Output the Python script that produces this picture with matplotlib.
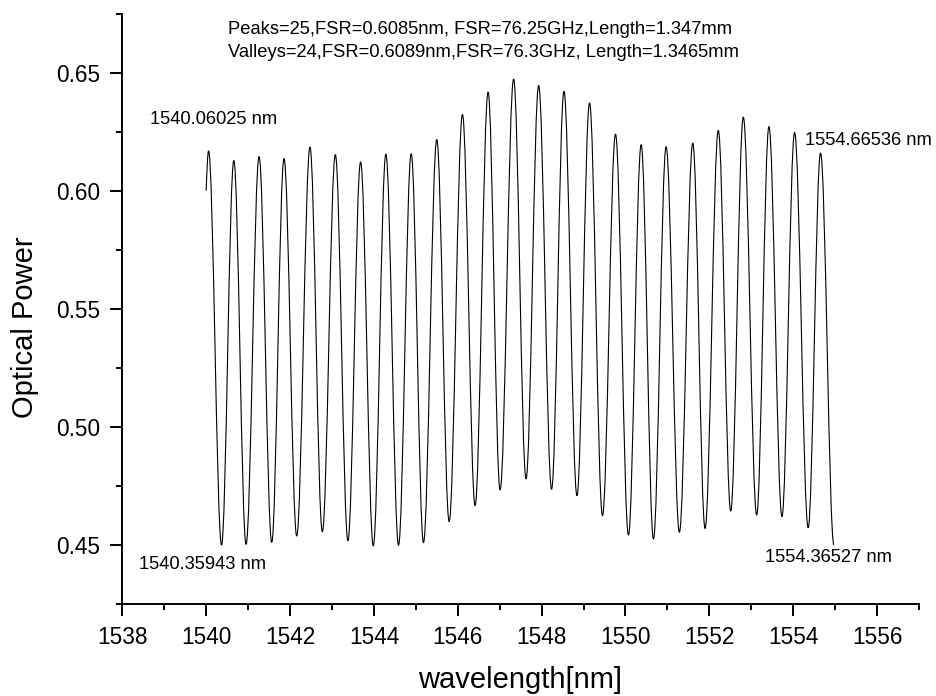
import matplotlib
matplotlib.use('Agg')
import matplotlib.pyplot as plt
from matplotlib.path import Path
from matplotlib.patches import PathPatch
from matplotlib.ticker import MultipleLocator

plt.rcParams['font.family'] = ['Liberation Sans', 'DejaVu Sans']

# ---- data ----
start_wl, start_pw = 1540.00, 0.600
end_wl, end_pw = 1554.97, 0.450

peak_wl = [1540.057, 1540.660, 1541.262, 1541.857, 1542.476, 1543.081, 1543.683,
           1544.286, 1544.890, 1545.500, 1546.112, 1546.724, 1547.333, 1547.929,
           1548.533, 1549.143, 1549.762, 1550.374, 1550.969, 1551.605, 1552.214,
           1552.810, 1553.421, 1554.033, 1554.652]
peak_pw = [0.6169, 0.6128, 0.6145, 0.6136, 0.6185, 0.6153, 0.6122,
           0.6155, 0.6157, 0.6217, 0.6323, 0.6418, 0.6473, 0.6446,
           0.6421, 0.6372, 0.6240, 0.6195, 0.6186, 0.6202, 0.6256,
           0.6312, 0.6272, 0.6247, 0.6160]

valley_wl = [1540.367, 1540.952, 1541.564, 1542.160, 1542.771, 1543.381, 1543.986,
             1544.588, 1545.183, 1545.795, 1546.414, 1547.010, 1547.629, 1548.238,
             1548.843, 1549.452, 1550.071, 1550.667, 1551.286, 1551.898, 1552.510,
             1553.129, 1553.731, 1554.357]
valley_pw = [0.4500, 0.4503, 0.4511, 0.4538, 0.4556, 0.4518, 0.4496,
             0.4499, 0.4510, 0.4599, 0.4667, 0.4733, 0.4780, 0.4736,
             0.4709, 0.4624, 0.4542, 0.4525, 0.4554, 0.4570, 0.4644,
             0.4627, 0.4620, 0.4573]

xticks_major = 2
yticks_major = 0.05

info_lines = ["Peaks=25,FSR=0.6085nm, FSR=76.25GHz,Length=1.347mm",
              "Valleys=24,FSR=0.6089nm,FSR=76.3GHz, Length=1.3465mm"]
labels = ["1540.06025 nm", "1540.35943 nm", "1554.66536 nm", "1554.36527 nm"]

# ---- figure ----
fig = plt.figure(figsize=(9.37, 6.96), dpi=100)
ax = fig.add_axes([0.1305, 0.1322, 0.8503, 0.8481])
ax.set_xlim(1538, 1557)
ax.set_ylim(0.425, 0.675)

# ordered extrema sequence
seq_x = [start_wl]
seq_y = [start_pw]
for i in range(len(peak_wl)):
    seq_x.append(peak_wl[i]); seq_y.append(peak_pw[i])
    if i < len(valley_wl):
        seq_x.append(valley_wl[i]); seq_y.append(valley_pw[i])
seq_x.append(end_wl); seq_y.append(end_pw)

a = 0.364
verts = [(seq_x[0], seq_y[0])]
codes = [Path.MOVETO]
for i in range(len(seq_x) - 1):
    x0, y0 = seq_x[i], seq_y[i]
    x1, y1 = seq_x[i + 1], seq_y[i + 1]
    dx, dy = x1 - x0, y1 - y0
    if i == 0:
        c1 = (x0 + dx / 3, y0 + dy / 2)
    else:
        c1 = (x0 + a * dx, y0)
    c2 = (x1 - a * dx, y1)
    verts += [c1, c2, (x1, y1)]
    codes += [Path.CURVE4] * 3
ax.add_patch(PathPatch(Path(verts, codes), transform=ax.transData,
                       fill=False, edgecolor='black', lw=0.8))

# axes styling
for s in ['top', 'right']:
    ax.spines[s].set_visible(False)
for s in ['left', 'bottom']:
    ax.spines[s].set_linewidth(1.4)
ax.xaxis.set_major_locator(MultipleLocator(xticks_major))
ax.xaxis.set_minor_locator(MultipleLocator(1))
ax.yaxis.set_major_locator(MultipleLocator(yticks_major))
ax.yaxis.set_minor_locator(MultipleLocator(0.025))
ax.yaxis.set_major_formatter(matplotlib.ticker.FormatStrFormatter('%.2f'))
ax.tick_params(which='major', direction='out', length=8.6, width=1.4,
               labelsize=16.3, pad=7)
ax.tick_params(which='minor', direction='out', length=4.3, width=1.4)

ax.set_xlabel('wavelength[nm]', fontsize=21)
ax.set_ylabel('Optical Power', fontsize=21)
ax.xaxis.set_label_coords(0.4992, -0.1287)
ax.xaxis.label.set_va('center')
ax.yaxis.set_label_coords(-0.1221, 0.4684)
ax.yaxis.label.set_va('center')

fs = 13.2
ax.text(1540.529, 0.6685, info_lines[0], fontsize=fs, ha='left', va='center')
ax.text(1540.529, 0.6584, info_lines[1], fontsize=fs, ha='left', va='center')
ax.text(1538.670, 0.6304, labels[0], fontsize=fs, ha='left', va='center')
ax.text(1538.405, 0.4417, labels[1], fontsize=fs, ha='left', va='center')
ax.text(1554.279, 0.6215, labels[2], fontsize=fs, ha='left', va='center')
ax.text(1553.319, 0.4449, labels[3], fontsize=fs, ha='left', va='center')

fig.savefig('out.png', dpi=100)
